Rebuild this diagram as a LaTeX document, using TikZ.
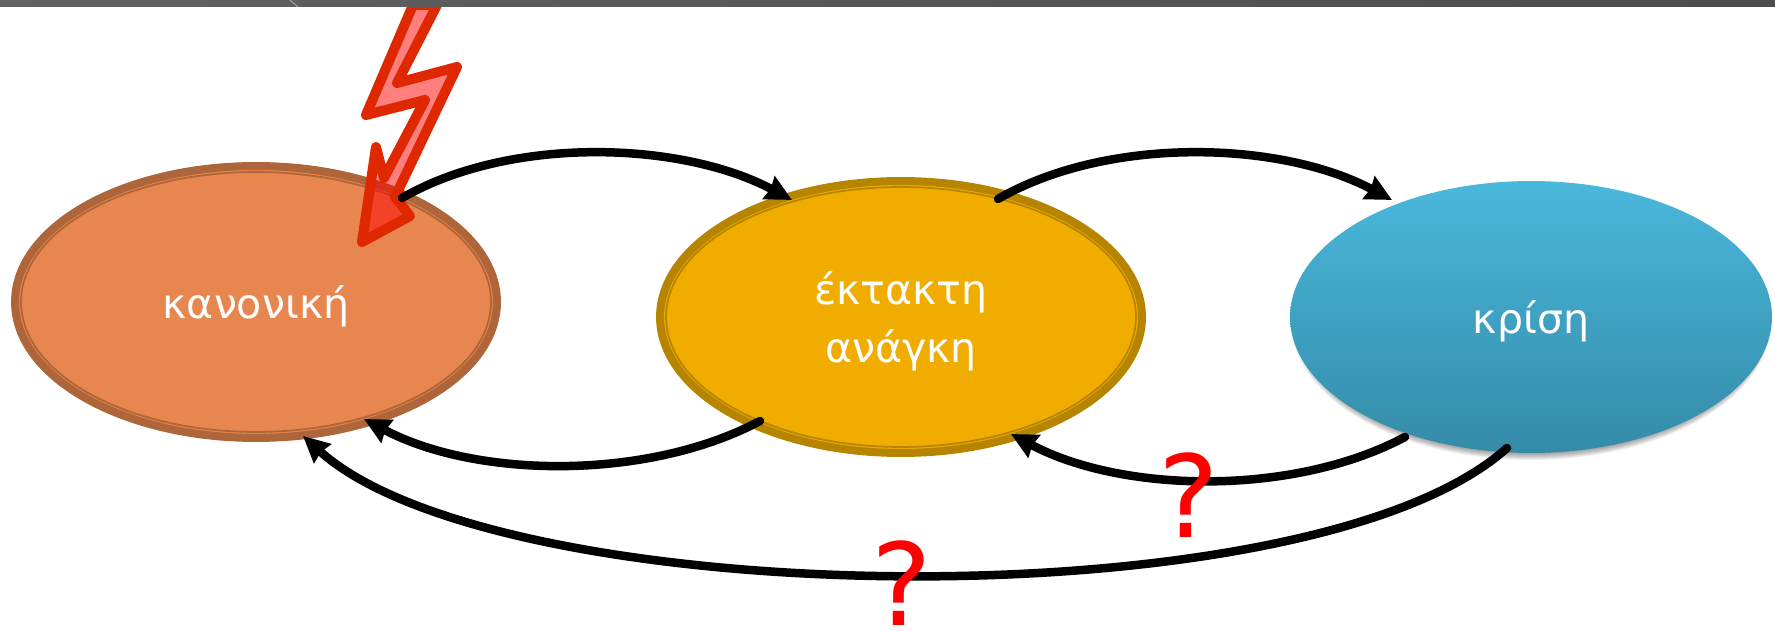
\documentclass[tikz,border=0pt]{standalone}
\usepackage{fontspec}
\setmainfont{DejaVu Sans}
\usepackage{tikz}
\usetikzlibrary{arrows.meta,positioning,shapes.geometric,calc}
\definecolor{orangefill}{HTML}{E8864F}
\definecolor{orangering}{HTML}{AD6539}
\definecolor{yellowfill}{HTML}{F0AD00}
\definecolor{yellowring}{HTML}{B78400}
\definecolor{boltred}{HTML}{E02800}
\definecolor{bluetop}{HTML}{4AB8DC}
\definecolor{bluebottom}{HTML}{348BA8}
\begin{document}
\begin{tikzpicture}[
	x=0.02cm, y=-0.02cm,
	state/.style={ellipse, text=white, align=center, inner sep=0pt, text depth=0pt, minimum width=9.64cm, minimum height=5.44cm, font=\fontsize{23.4}{33.5}\selectfont},
	ringed/.style n args={2}{state, fill=#1, draw=#2, line width=0.16cm, path picture={\draw[#2, line width=0.035cm] (path picture bounding box.center) ellipse (4.7cm and 2.6cm);}},
	arr/.style={-{Stealth[length=0.52cm,width=0.5cm,inset=0.04cm]}, line width=0.17cm, line cap=round},
	query/.style={text=red, font=\fontsize{65}{65}\selectfont, inner sep=0pt}
]
\useasboundingbox (0,0) rectangle (1775,631);
\node[ringed={orangefill}{orangering}] (normal) at (256,302) {κανονική};
\node[ringed={yellowfill}{yellowring}] (urgent) at (901,317) {έκτακτη\\ανάγκη};
% soft shadow under the blue one
\foreach \s in {1,...,8}
	\fill[black, opacity=0.06] (1531,322) ellipse ({232+\s} and {130+\s});
\node[state, top color=bluetop, bottom color=bluebottom] (crisis) at (1531,317) {κρίση};

\draw[boltred, fill=red, fill opacity=0.5, line width=0.2cm, line join=round]
	(437,5) -- (397,83) -- (457,67) -- (395,197) -- (410,216) -- (362,242) -- (376,147) -- (384,178) -- (425,100) -- (366,115) -- (413,5) -- cycle;

\draw[arr] ($(normal.center)+(146,-104)$) to[out=30, in=152, looseness=0.82] ($(urgent.center)+(-109,-117)$);
\draw[arr] ($(urgent.center)+(97,-118)$) to[out=30, in=152, looseness=0.82] ($(crisis.center)+(-139,-117)$);
\draw[arr] ($(urgent.center)+(-141,104)$) to[out=208, in=-28, looseness=0.82] ($(normal.center)+(108,117)$);
\draw[arr] ($(crisis.center)+(-126,120)$) to[out=208, in=-28, looseness=0.82] ($(urgent.center)+(110,117)$);
\draw[arr] ($(crisis.center)+(-24,131)$) to[out=222, in=-42, looseness=0.56] ($(normal.center)+(47,134)$);

\node[query] (q1) at (1189,495) {?};
\node[query] (q2) at (902,583) {?};

\fill[left color=black!62, right color=black!70] (0,0) rectangle (1775,7);
\draw[black!35, line width=0.02cm] (290,0) -- (298,7);
\end{tikzpicture}
\end{document}
